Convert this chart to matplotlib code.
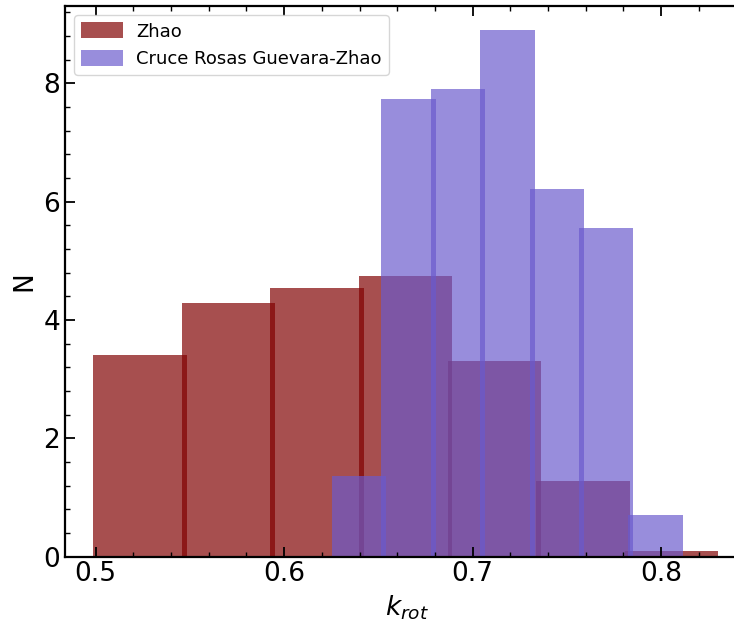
import numpy as np
import matplotlib
matplotlib.use("Agg")
import matplotlib.pyplot as plt
from matplotlib.ticker import AutoMinorLocator

# histogram data (density-normalised)
zhao_edges = [0.500, 0.547, 0.594, 0.641, 0.688, 0.735, 0.782, 0.829]
zhao_heights = [3.40, 4.29, 4.54, 4.74, 3.31, 1.28, 0.09]

cruce_edges = [0.6266, 0.6528, 0.6791, 0.7053, 0.7316, 0.7578, 0.7840, 0.8103]
cruce_heights = [1.37, 7.73, 7.90, 8.90, 6.22, 5.55, 0.70]

labels = ["Zhao", "Cruce Rosas Guevara-Zhao"]
colors = ["maroon", "slateblue"]

plt.rcParams.update({
    "font.family": "DejaVu Sans",
    "xtick.direction": "in",
    "ytick.direction": "in",
    "xtick.top": True,
    "ytick.right": True,
})

fig = plt.figure(figsize=(7.34, 6.21), dpi=100)
ax = fig.add_axes([0.0886, 0.1037, 1.0209 - 0.0886, 0.9903 - 0.1037])

# bars are drawn a touch wider than the bins, so neighbours overlap
overlap = 0.0026
for edges, heights, c, lab in zip([zhao_edges, cruce_edges],
                                  [zhao_heights, cruce_heights],
                                  colors, labels):
    edges = np.asarray(edges)
    widths = np.diff(edges) + overlap
    ax.bar(edges[:-1] - overlap / 2, heights, width=widths, align="edge",
           color=c, alpha=0.69, linewidth=0, label=lab)

ax.set_xlim(0.4837, 0.8469)
ax.set_ylim(0, 9.305)
ax.set_xticks([0.5, 0.6, 0.7, 0.8])
ax.set_yticks([0, 2, 4, 6, 8])
ax.xaxis.set_minor_locator(AutoMinorLocator(5))
ax.yaxis.set_minor_locator(AutoMinorLocator(5))
ax.tick_params(which="major", length=7, width=1.3, labelsize=19)
ax.tick_params(which="minor", length=3.5, width=1.0)
for s in ax.spines.values():
    s.set_linewidth(1.6)

ax.set_xlabel(r"$k_{rot}$", fontsize=19)
ax.set_ylabel("N", fontsize=19)

ax.legend(loc="upper left", fontsize=13, handlelength=2.3, handleheight=1.0,
          handletextpad=0.75)

fig.savefig("out.png", dpi=100)
